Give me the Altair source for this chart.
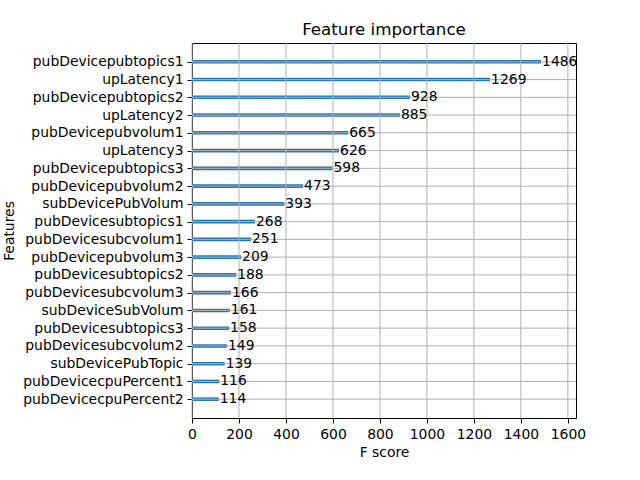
import altair as alt
import pandas as pd

features = [
    "pubDevicepubtopics1", "upLatency1", "pubDevicepubtopics2", "upLatency2",
    "pubDevicepubvolum1", "upLatency3", "pubDevicepubtopics3", "pubDevicepubvolum2",
    "subDevicePubVolum", "pubDevicesubtopics1", "pubDevicesubcvolum1", "pubDevicepubvolum3",
    "pubDevicesubtopics2", "pubDevicesubcvolum3", "subDeviceSubVolum", "pubDevicesubtopics3",
    "pubDevicesubcvolum2", "subDevicePubTopic", "pubDevicecpuPercent1", "pubDevicecpuPercent2",
]
scores = [1486, 1269, 928, 885, 665, 626, 598, 473, 393, 268, 251, 209,
          188, 166, 161, 158, 149, 139, 116, 114]
x_ticks = [0, 200, 400, 600, 800, 1000, 1200, 1400, 1600]

df = pd.DataFrame({"feature": features, "score": scores})
df["idx"] = range(len(df))
df["lo"] = df["idx"] - 0.1
df["hi"] = df["idx"] + 0.1

n = len(features)
xmax = max(scores) * 1.1
label_map = "{" + ",".join(f'"{i}":"{f}"' for i, f in enumerate(features)) + "}"

FONT = "DejaVu Sans"
GRID = "#b0b0b0"

xscale = alt.Scale(domain=[0, xmax], nice=False, zero=True)
yscale = alt.Scale(domain=[n - 1 + 1.06, -1.06], nice=False, zero=False)

common_axis = dict(grid=False, domainColor="black", tickColor="black", tickSize=5,
                   labelPadding=4, labelFontSize=13.9, labelColor="black",
                   titleFontSize=13.9, titleFontWeight="normal", titleColor="black",
                   labelFont=FONT, titleFont=FONT, labelFlush=False, labelOverlap=False,
                   labelBound=False)
x_axis = alt.Axis(values=x_ticks, format="d", titlePadding=5, **common_axis)
y_axis = alt.Axis(values=list(range(n)), labelExpr=f"{label_map}[datum.value]",
                  titlePadding=6, **common_axis)

base = alt.Chart(df)

bars = base.mark_rect(color="#1f77b4").encode(
    x=alt.X("score:Q", scale=xscale, title="F score", axis=x_axis),
    x2=alt.value(0),
    y=alt.Y("lo:Q", scale=yscale, title="Features", axis=y_axis),
    y2="hi:Q",
)

vgrid = alt.Chart(pd.DataFrame({"v": x_ticks})).mark_rule(color=GRID, strokeWidth=1).encode(
    x=alt.X("v:Q", scale=xscale, title="F score", axis=x_axis),
)
hgrid = base.mark_rule(color=GRID, strokeWidth=1).encode(
    y=alt.Y("idx:Q", scale=yscale, title="Features", axis=y_axis),
)

texts = base.mark_text(align="left", baseline="middle", fontSize=13.9, font=FONT,
                       color="black", dx=1).encode(
    x=alt.X("score:Q", scale=xscale, title="F score", axis=x_axis),
    y=alt.Y("idx:Q", scale=yscale, title="Features", axis=y_axis),
    text="score:Q",
)

chart = alt.layer(bars, vgrid, hgrid, texts).properties(
    width=384, height=375,
    title=alt.TitleParams("Feature importance", fontSize=16.7, font=FONT,
                          fontWeight="normal", color="black", offset=4, anchor="middle"),
    autosize=alt.AutoSizeParams(type="none"),
    padding={"left": 192, "top": 43, "right": 64, "bottom": 62},
).configure_view(stroke="black", strokeWidth=1)

chart.save("out.html", embed_options={"renderer": "svg", "actions": False})
